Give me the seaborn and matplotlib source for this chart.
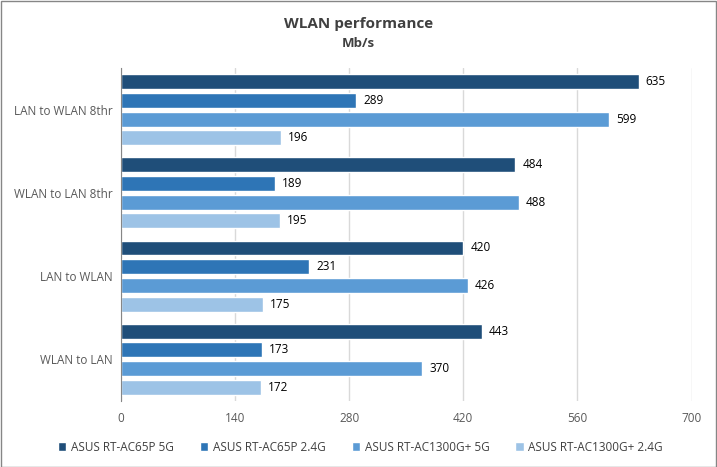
import pandas as pd
import matplotlib.pyplot as plt
import seaborn as sns

categories = ["LAN to WLAN 8thr", "WLAN to LAN 8thr", "LAN to WLAN", "WLAN to LAN"]
series = ["ASUS RT-AC65P 5G", "ASUS RT-AC65P 2.4G", "ASUS RT-AC1300G+ 5G", "ASUS RT-AC1300G+ 2.4G"]
ac65p_5g = [635, 484, 420, 443]
ac65p_24g = [289, 189, 231, 173]
ac1300g_5g = [599, 488, 426, 370]
ac1300g_24g = [196, 195, 175, 172]
colors = ["#1F4E79", "#2E75B6", "#5B9BD5", "#9DC3E6"]

rows = []
for name, vals in zip(series, [ac65p_5g, ac65p_24g, ac1300g_5g, ac1300g_24g]):
    for cat, v in zip(categories, vals):
        rows.append({"test": cat, "device": name, "speed": v})
df = pd.DataFrame(rows)

sns.set_style("white")
plt.rcParams['font.family'] = ['Open Sans', 'DejaVu Sans']

fig = plt.figure(figsize=(7.17, 4.67), dpi=100)
ax = fig.add_axes([0.1683, 0.142, 0.7964, 0.7118])

sns.barplot(data=df, y="test", x="speed", hue="device", order=categories,
            hue_order=series, palette=colors, orient="h", width=0.9, gap=0.2,
            saturation=1, ax=ax, errorbar=None)

for cont in ax.containers:
    ax.bar_label(cont, padding=5, fontsize=8.5, color="black")

ax.set_xlim(0, 700)
ax.set_xticks(range(0, 701, 140))
ax.set_xlabel("")
ax.set_ylabel("")
ax.grid(axis="x", color="#D9D9D9", linewidth=1)
ax.set_axisbelow(True)
for s in ["top", "right", "bottom"]:
    ax.spines[s].set_visible(False)
ax.spines["left"].set_color("#868686")
ax.tick_params(axis="both", length=0, labelsize=8.5, labelcolor="#595959")
ax.tick_params(axis="x", pad=8)
ax.tick_params(axis="y", pad=6)

ax.legend(loc="center", bbox_to_anchor=(0.42, -0.14), ncol=4, frameon=False,
          fontsize=8.5, handlelength=0.7, handleheight=0.7, handletextpad=0.4,
          columnspacing=2.2, labelcolor="#404040")

fig.text(0.5, 0.949, "WLAN performance", ha="center", va="center", fontsize=11,
         fontweight="bold", color="#404040")
fig.text(0.5, 0.906, "Mb/s", ha="center", va="center", fontsize=9.5,
         fontweight="bold", color="#404040")

fig.patches.append(plt.Rectangle((0.001, 0.001), 0.997, 0.997, transform=fig.transFigure,
                                 fill=False, edgecolor="#868686", linewidth=1))

fig.savefig("out.png", dpi=100)
